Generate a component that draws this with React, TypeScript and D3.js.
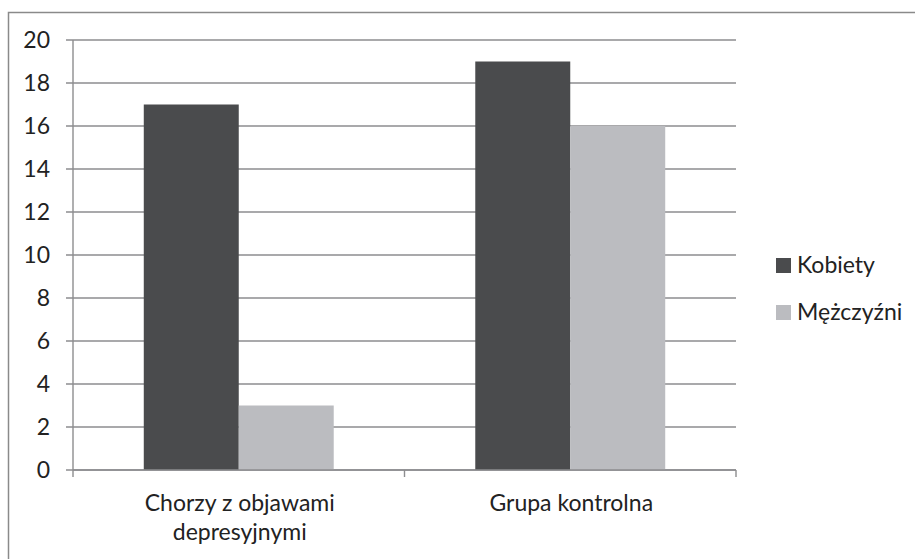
import React from "react";
import * as d3 from "d3";

const categories: string[][] = [["Chorzy z objawami", "depresyjnymi"], ["Grupa kontrolna"]];
const categoryKeys = ["Chorzy z objawami depresyjnymi", "Grupa kontrolna"];
const seriesNames = ["Kobiety", "Mężczyźni"];
const kobiety = [17, 19];
const mezczyzni = [3, 16];
const yTicks = [0, 2, 4, 6, 8, 10, 12, 14, 16, 18, 20];
const colors = ["#4a4b4d", "#bbbcc0"];

const W = 915;
const H = 559;
const left = 73;
const right = 736;
const top = 40;
const bottom = 470;
const FONT = "Lato, 'Open Sans', sans-serif";
const FS = 23;

export default function App() {
  const x0 = d3.scaleBand<string>().domain(categoryKeys).range([left, right]).padding(0);
  const step = x0.bandwidth();
  const gap = step * 0.2135;
  const x1 = d3.scaleBand<string>().domain(seriesNames).range([gap, step - gap]).padding(0);
  const y = d3.scaleLinear().domain([0, 20]).range([bottom, top]);
  const values = [kobiety, mezczyzni];
  const gridColor = "#8d8d8f";

  return (
    <svg width={W} height={H} style={{ position: "absolute", left: 0, top: 0, background: "#fff" }}>
      <rect x={0} y={0} width={W} height={H} fill="#fff" />
      <path d={`M8.5,${H + 2} V12.5 H${W + 2}`} fill="none" stroke="#8a8a8a" strokeWidth={1.5} />
      {yTicks.map((t) => (
        <g key={t}>
          <line x1={left - 7} x2={right} y1={y(t)} y2={y(t)} stroke={gridColor} strokeWidth={1.4} />
          <text x={50} y={y(t)} dy="0.36em" textAnchor="end" fontFamily={FONT} fontSize={FS} fill="#222">
            {t}
          </text>
        </g>
      ))}
      <line x1={left} x2={left} y1={top} y2={bottom} stroke={gridColor} strokeWidth={1.4} />
      {[left, left + step, right].map((xx, i) => (
        <line key={i} x1={xx} x2={xx} y1={bottom} y2={bottom + 7} stroke={gridColor} strokeWidth={1.4} />
      ))}
      {categoryKeys.map((c, ci) => (
        <g key={c}>
          {seriesNames.map((s, si) => {
            const v = values[si][ci];
            return (
              <rect
                key={s}
                x={(x0(c) ?? 0) + (x1(s) ?? 0)}
                y={y(v)}
                width={x1.bandwidth()}
                height={y(0) - y(v)}
                fill={colors[si]}
              />
            );
          })}
          {categories[ci].map((line, li) => (
            <text
              key={li}
              x={(x0(c) ?? 0) + step / 2 + 1}
              y={511 + li * 29}
              textAnchor="middle"
              fontFamily={FONT}
              fontSize={FS}
              fill="#222"
            >
              {line}
            </text>
          ))}
        </g>
      ))}
      <line x1={left} x2={right} y1={bottom} y2={bottom} stroke={gridColor} strokeWidth={1.4} />
      {seriesNames.map((s, i) => (
        <g key={s} transform={`translate(776, ${258 + i * 47})`}>
          <rect x={0} y={0} width={15} height={15} fill={colors[i]} />
          <text x={21} y={15} fontFamily={FONT} fontSize={FS} fill="#222">
            {s}
          </text>
        </g>
      ))}
    </svg>
  );
}
